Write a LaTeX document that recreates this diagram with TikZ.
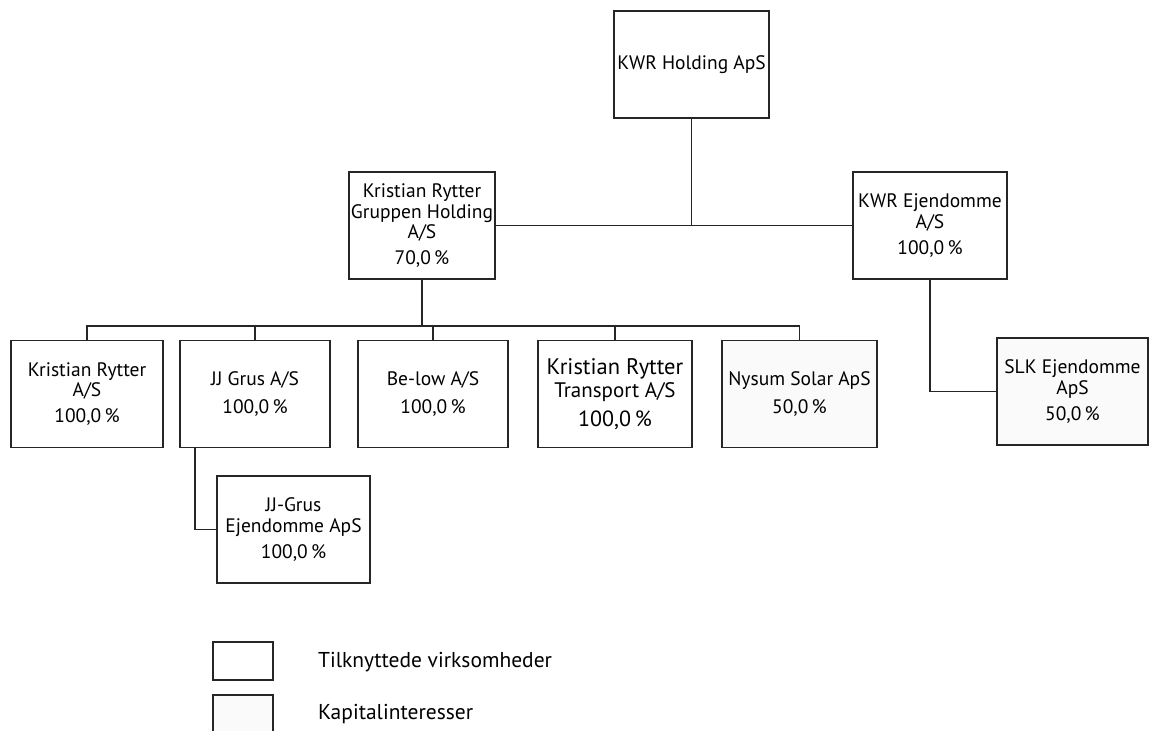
\documentclass[tikz,border=0pt]{standalone}
\usepackage{fontspec}
\setmainfont{PT Sans}
\begin{document}
\begin{tikzpicture}[x=1pt,y=-1pt,
  box/.style={draw=black!85, line width=1.3pt, minimum width=#1, minimum height=107pt,
    align=center, inner sep=0pt, font=\fontsize{19.5}{20.8}\selectfont},
  box/.default=152pt,
  capbox/.style={box=#1, fill=black!2},
  capbox/.default=152pt,
  conn/.style={draw=black!85, line width=1.3pt},
  legbox/.style={draw=black!85, line width=1.3pt, minimum width=60pt, minimum height=38pt, inner sep=0pt},
  legtext/.style={anchor=west, inner sep=0pt, font=\fontsize{21.5}{22}\selectfont}]
\useasboundingbox (0,0) rectangle (1149,731);
\fill[white] (0,0) rectangle (1149,731);

\node[box=155pt] (kwrh) at (691.5,64.5) {KWR Holding ApS};
\node[box=146pt] (krg) at (422,225.5) {Kristian Rytter\\Gruppen Holding\\A/S\\[5pt]70,0\,\%};
\node[box=154pt] (kwre) at (930,225.5) {KWR Ejendomme\\A/S\\[5pt]100,0\,\%};
\node[capbox=151pt] (slk) at (1072.5,391.5) {SLK Ejendomme\\ApS\\[5pt]50,0\,\%};

\node[box=152pt] (kr) at (87,394) {Kristian Rytter\\A/S\\[5pt]100,0\,\%};
\node[box=150pt] (jj) at (255,394) {JJ Grus A/S\\[7pt]100,0\,\%};
\node[box=150pt] (below) at (433,394) {Be-low A/S\\[7pt]100,0\,\%};
\node[box=154pt, font=\fontsize{21}{23}\selectfont] (krt) at (615,394) {{\fontsize{22.5}{23}\selectfont Kristian Rytter}\\Transport A/S\\[6pt]{\fontsize{22}{23}\selectfont 100,0\,\%}};
\node[capbox=155pt] (nysum) at (799.5,394) {Nysum Solar ApS\\[7pt]50,0\,\%};

\node[box=153pt] (jje) at (293.5,529.5) {JJ-Grus\\Ejendomme ApS\\[5pt]100,0\,\%};

\node[legbox] (leg1) at (243,661) {};
\node[legbox, fill=black!2] (leg2) at (243,714) {};
\node[legtext] (legt1) at (318,662) {Tilknyttede virksomheder};
\node[legtext] (legt2) at (318,714) {Kapitalinteresser};

% connectors
\coordinate (hub) at (kwrh.south |- krg.east);
\draw[conn] (kwrh.south) -- (hub);
\draw[conn] (krg.east) -- (kwre.west);

\coordinate (bus) at (0,326);
\draw[conn] (krg.south) -- (krg.south |- bus);
\draw[conn] (kr.north) -- (kr.north |- bus) -- (nysum.north |- bus) -- (nysum.north);
\draw[conn] (jj.north) -- (jj.north |- bus);
\draw[conn] (below.north) -- (below.north |- bus);
\draw[conn] (krt.north) -- (krt.north |- bus);

\draw[conn] (kwre.south) |- (slk.west);

\coordinate (jjdrop) at ([xshift=-60pt]jj.south);
\draw[conn] (jjdrop) |- (jje.west);
\end{tikzpicture}
\end{document}
